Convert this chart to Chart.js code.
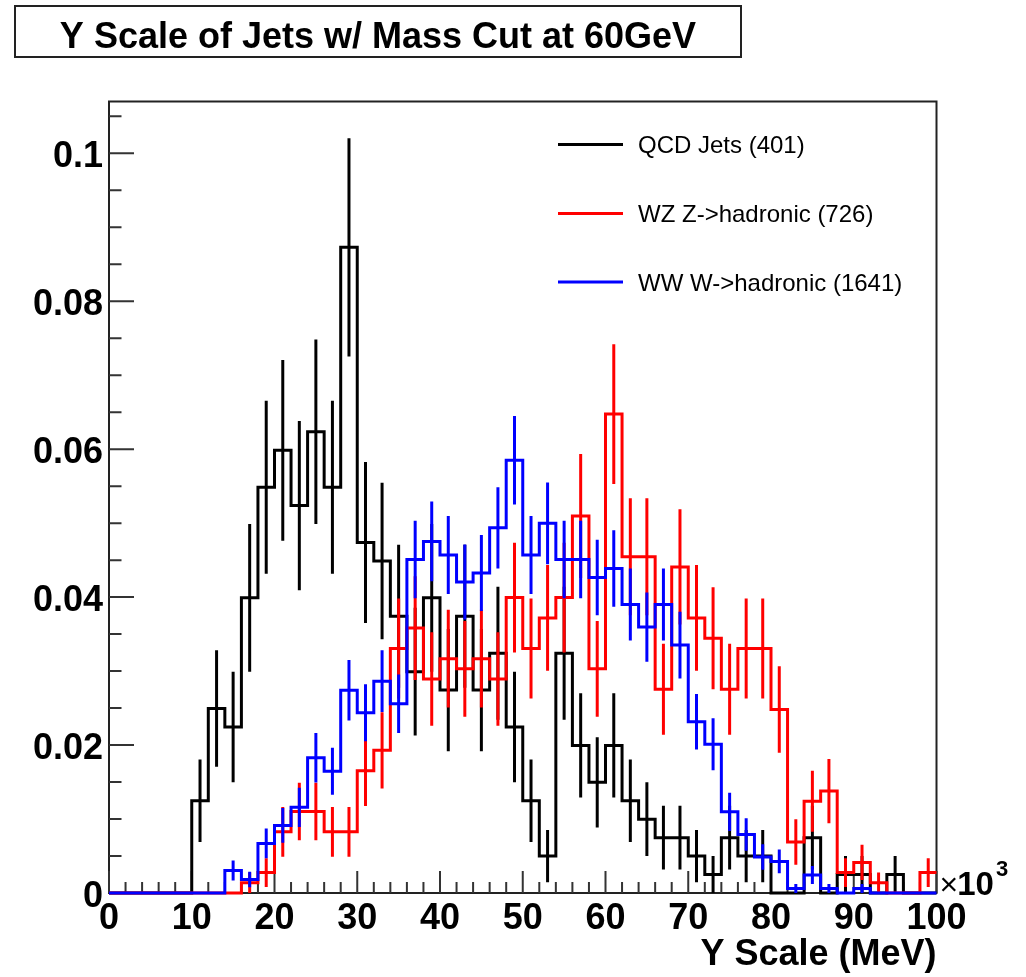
<!DOCTYPE html>
<html>
<head>
<meta charset="utf-8">
<title>Y Scale of Jets w/ Mass Cut at 60GeV</title>
<script src="https://cdn.jsdelivr.net/npm/chart.js@4.4.1/dist/chart.umd.min.js"></script>
<style>
  html, body { margin: 0; padding: 0; background: #ffffff; }
  canvas { display: block; }
</style>
</head>
<body>
<canvas id="yscale" width="1026" height="977"></canvas>
<script>
// Histogram binning: 50 bins of 2 (x10^3 MeV) from 0 to 100
const binEdges = [0, 2, 4, 6, 8, 10, 12, 14, 16, 18, 20, 22, 24, 26, 28, 30, 32, 34, 36, 38,
  40, 42, 44, 46, 48, 50, 52, 54, 56, 58, 60, 62, 64, 66, 68, 70, 72, 74, 76, 78,
  80, 82, 84, 86, 88, 90, 92, 94, 96, 98, 100];

// Raw jet counts per bin for each sample
const qcdCounts = [0, 0, 0, 0, 0, 5, 10, 9, 16, 22, 24, 21, 25, 22, 35, 19, 18, 15, 12, 16,
  11, 15, 11, 13, 9, 5, 2, 13, 8, 6, 8, 5, 4, 3, 3, 2, 1, 3, 2, 2,
  0, 0, 3, 0, 1, 1, 0, 1, 0, 0];
const wzCounts = [0, 0, 0, 0, 0, 0, 0, 0, 1, 2, 6, 8, 8, 6, 6, 12, 14, 24, 26, 21,
  23, 22, 23, 21, 29, 24, 27, 29, 37, 22, 47, 33, 33, 20, 32, 27, 25, 20, 24, 24,
  18, 5, 9, 10, 2, 3, 1, 0, 0, 2];
const wwCounts = [0, 0, 0, 0, 0, 0, 0, 5, 3, 11, 15, 19, 30, 27, 45, 40, 47, 42, 74, 78,
  75, 69, 71, 81, 96, 75, 82, 74, 74, 70, 72, 64, 59, 64, 55, 38, 33, 18, 13, 8,
  7, 1, 4, 1, 0, 1, 0, 0, 0, 0];

const seriesNames = ['QCD Jets (401)', 'WZ Z->hadronic (726)', 'WW W->hadronic (1641)'];
const seriesColors = ['#000000', '#ff0000', '#0000ff'];

const xTickValues = [0, 10, 20, 30, 40, 50, 60, 70, 80, 90, 100];
const xTickLabels = ['0', '10', '20', '30', '40', '50', '60', '70', '80', '90', '100'];
const yTickValues = [0, 0.02, 0.04, 0.06, 0.08, 0.1];
const yTickLabels = ['0', '0.02', '0.04', '0.06', '0.08', '0.1'];

const FONT = '"Liberation Sans", Arial, Helvetica, sans-serif';

// Unit-area normalisation with Poisson errors
function normalise(counts) {
  const total = counts.reduce((a, b) => a + b, 0);
  return {
    frac: counts.map(n => n / total),
    err: counts.map(n => Math.sqrt(n) / total)
  };
}

// Step outline through every bin edge (last bin held to the upper edge)
function outline(h) {
  return binEdges.map((x, i) => ({ x: x, y: h.frac[Math.min(i, h.frac.length - 1)] }));
}

// Vertical error bars at bin centres, separated by gaps
function errorBars(counts, h) {
  const pts = [];
  counts.forEach((n, i) => {
    if (!n) return;
    const xc = (binEdges[i] + binEdges[i + 1]) / 2;
    pts.push({ x: xc, y: h.frac[i] - h.err[i] });
    pts.push({ x: xc, y: h.frac[i] + h.err[i] });
    pts.push({ x: xc, y: null });
  });
  return pts;
}

const allCounts = [qcdCounts, wzCounts, wwCounts];
const datasets = [];
allCounts.forEach((counts, k) => {
  const h = normalise(counts);
  const drawOrder = allCounts.length - k; // later samples on top
  datasets.push({
    label: seriesNames[k],
    data: outline(h),
    borderColor: seriesColors[k],
    borderWidth: 3,
    stepped: 'before',
    pointRadius: 0,
    fill: false,
    clip: 4,
    order: drawOrder
  });
  datasets.push({
    label: seriesNames[k] + ' errors',
    data: errorBars(counts, h),
    borderColor: seriesColors[k],
    borderWidth: 3,
    borderCapStyle: 'butt',
    spanGaps: false,
    pointRadius: 0,
    fill: false,
    clip: 4,
    order: drawOrder
  });
});

// Frame, inward major/minor ticks, title pave, legend and exponent label
const rootStyle = {
  id: 'rootStyle',
  beforeDatasetsDraw(chart) {
    const { ctx, chartArea: a, scales: { x, y } } = chart;
    ctx.save();
    ctx.strokeStyle = '#222222';
    ctx.lineWidth = 2;
    ctx.strokeRect(a.left, a.top, a.right - a.left, a.bottom - a.top);

    ctx.strokeStyle = '#333333';
    ctx.lineWidth = 2;
    ctx.beginPath();
    // x axis: major every 10, minor every 2
    for (let i = 0; i < xTickValues.length; i++) {
      const px = x.getPixelForValue(xTickValues[i]);
      ctx.moveTo(px, a.bottom);
      ctx.lineTo(px, a.bottom - 22);
      if (i < xTickValues.length - 1) {
        const step = (xTickValues[i + 1] - xTickValues[i]) / 5;
        for (let m = 1; m < 5; m++) {
          const mx = x.getPixelForValue(xTickValues[i] + m * step);
          ctx.moveTo(mx, a.bottom);
          ctx.lineTo(mx, a.bottom - 11);
        }
      }
    }
    // y axis: major every 0.02, minor every 0.005
    const yStep = (yTickValues[1] - yTickValues[0]) / 4;
    for (let i = 0; i < yTickValues.length; i++) {
      const py = y.getPixelForValue(yTickValues[i]);
      ctx.moveTo(a.left, py);
      ctx.lineTo(a.left + 25, py);
    }
    for (let v = yStep; v <= y.max + 1e-9; v += yStep) {
      const isMajor = yTickValues.some(t => Math.abs(t - v) < 1e-9);
      if (isMajor) continue;
      const py = y.getPixelForValue(v);
      ctx.moveTo(a.left, py);
      ctx.lineTo(a.left + 12.5, py);
    }
    ctx.stroke();
    ctx.restore();
  },
  afterDraw(chart) {
    const { ctx, chartArea: a } = chart;
    ctx.save();

    // Title pave
    ctx.fillStyle = '#ffffff';
    ctx.fillRect(15, 6, 726, 51);
    ctx.strokeStyle = '#222222';
    ctx.lineWidth = 2;
    ctx.strokeRect(15, 6, 726, 51);
    ctx.fillStyle = '#000000';
    ctx.font = 'bold 36px ' + FONT;
    ctx.textAlign = 'center';
    ctx.textBaseline = 'alphabetic';
    ctx.fillText('Y Scale of Jets w/ Mass Cut at 60GeV', 378, 48);

    // Legend
    const rows = [144.5, 213.5, 282];
    ctx.font = '24px ' + FONT;
    ctx.textAlign = 'left';
    seriesNames.forEach((name, k) => {
      ctx.strokeStyle = seriesColors[k];
      ctx.lineWidth = 3;
      ctx.beginPath();
      ctx.moveTo(558, rows[k]);
      ctx.lineTo(623, rows[k]);
      ctx.stroke();
      ctx.fillStyle = '#000000';
      ctx.fillText(name, 638, rows[k] + 8.5);
    });

    // Axis exponent
    const ex = a.right + 3;
    const eb = a.bottom + 2;
    ctx.font = '32px ' + FONT;
    ctx.fillText('\u00d7', ex, eb);
    const wx = ctx.measureText('\u00d7').width;
    ctx.font = 'bold 33px ' + FONT;
    ctx.fillText('10', ex + wx - 1, eb);
    const w10 = ctx.measureText('10').width;
    ctx.font = 'bold 22px ' + FONT;
    ctx.fillText('3', ex + wx + w10 + 1, eb - 19);

    ctx.restore();
  }
};

new Chart(document.getElementById('yscale'), {
  type: 'line',
  data: { datasets: datasets },
  plugins: [rootStyle],
  options: {
    responsive: false,
    animation: false,
    events: [],
    layout: { padding: { top: 101.5, right: 89.5, left: 0, bottom: 0 } },
    plugins: {
      legend: { display: false },
      title: { display: false },
      tooltip: { enabled: false }
    },
    scales: {
      x: {
        type: 'linear',
        position: 'bottom',
        min: 0,
        max: 100,
        grid: { display: false, drawTicks: false },
        border: { display: false },
        afterBuildTicks: s => { s.ticks = xTickValues.map(v => ({ value: v })); },
        afterFit: s => { s.height = 84; },
        ticks: {
          autoSkip: false,
          maxRotation: 0,
          padding: 4,
          color: '#000000',
          font: { family: FONT, size: 36, weight: 'bold' },
          callback: (v, i) => xTickLabels[i]
        },
        title: {
          display: true,
          text: 'Y Scale (MeV)',
          align: 'end',
          color: '#000000',
          font: { family: FONT, size: 36, weight: 'bold' },
          padding: { top: 0, bottom: 0 }
        }
      },
      y: {
        type: 'linear',
        min: 0,
        max: 0.107,
        grid: { display: false, drawTicks: false },
        border: { display: false },
        afterBuildTicks: s => { s.ticks = yTickValues.map(v => ({ value: v })); },
        afterFit: s => { s.width = 109; },
        ticks: {
          autoSkip: false,
          padding: 6,
          labelOffset: 4,
          color: '#000000',
          font: { family: FONT, size: 36, weight: 'bold' },
          callback: (v, i) => yTickLabels[i]
        }
      }
    }
  }
});
</script>
</body>
</html>
